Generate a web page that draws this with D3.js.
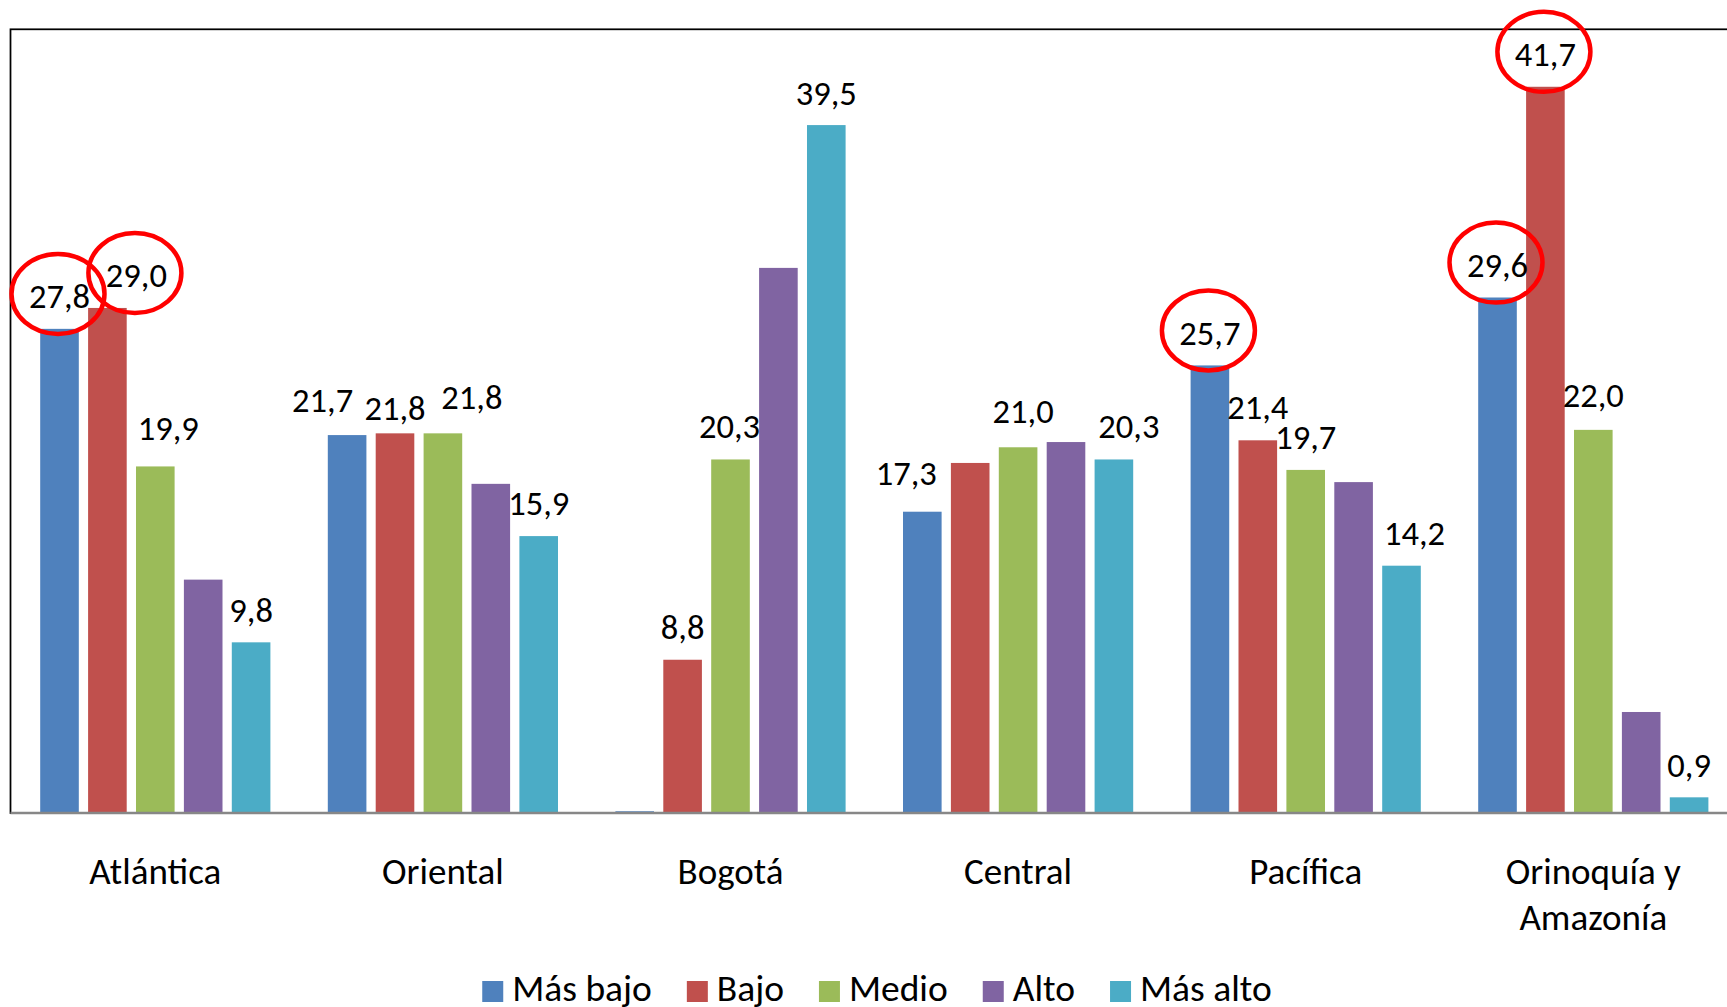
<!DOCTYPE html>
<html>
<head>
<meta charset="utf-8">
<script src="https://cdn.jsdelivr.net/npm/d3@7"></script>
<style>
  html, body { margin: 0; padding: 0; background: #fff; overflow: hidden; }
  svg { display: block; font-family: Carlito, Calibri, "Open Sans", sans-serif; }
</style>
</head>
<body>
<div id="chart"></div>
<script>
// Regions (x axis) and income quintile groups (series)
const categories = ["Atlántica", "Oriental", "Bogotá", "Central", "Pacífica", "Orinoquía y Amazonía"];
const series = ["Más bajo", "Bajo", "Medio", "Alto", "Más alto"];
const colors = ["#4F81BD", "#C0504D", "#9BBB59", "#8064A2", "#4BACC6"];

// values per series, in category order
const masBajo = [27.8, 21.7, 0.1, 17.3, 25.7, 29.6];
const bajo    = [29.0, 21.8, 8.8, 20.1, 21.4, 41.7];
const medio   = [19.9, 21.8, 20.3, 21.0, 19.7, 22.0];
const alto    = [13.4, 18.9, 31.3, 21.3, 19.0, 5.8];
const masAlto = [9.8, 15.9, 39.5, 20.3, 14.2, 0.9];

// which bars carry a value label (1 = shown)
const labelMasBajo = [1, 1, 0, 1, 1, 1];
const labelBajo    = [1, 1, 1, 0, 1, 1];
const labelMedio   = [1, 1, 1, 1, 1, 1];
const labelAlto    = [0, 0, 0, 0, 0, 0];
const labelMasAlto = [1, 1, 1, 1, 1, 1];

// labels that are circled in red: [series, category]
const circled = [
  ["Más bajo", "Atlántica"],
  ["Bajo", "Atlántica"],
  ["Más bajo", "Pacífica"],
  ["Más bajo", "Orinoquía y Amazonía"],
  ["Bajo", "Orinoquía y Amazonía"]
];

const yMax = 45;

const seriesValues = [masBajo, bajo, medio, alto, masAlto];
const seriesLabels = [labelMasBajo, labelBajo, labelMedio, labelAlto, labelMasAlto];

// manual label nudges (px), like dragged labels in the original
const nudges = {
  "Bajo|Atlántica": [29, 0],
  "Medio|Atlántica": [13, -5.5],
  "Más bajo|Oriental": [-24.5, -3],
  "Bajo|Oriental": [0, 7],
  "Medio|Oriental": [29, -4],
  "Más alto|Oriental": [0, -1],
  "Medio|Bogotá": [-1, -1],
  "Más bajo|Central": [-16, -6.5],
  "Medio|Central": [5, -4],
  "Más alto|Central": [15, -1],
  "Bajo|Pacífica": [0, -1],
  "Más alto|Pacífica": [13, 0],
  "Medio|Orinoquía y Amazonía": [0, -2]
};

const width = 1727;
const height = 1007;
const plot = { left: 11.5, top: 29.3, bottom: 813, right: 11.5 + 6 * 287.6 };

const svg = d3.select("#chart").append("svg")
  .attr("width", width)
  .attr("height", height);

const x0 = d3.scaleBand()
  .domain(categories)
  .range([plot.left, plot.right])
  .padding(0);

const groupPad = 28.7;
const x1 = d3.scaleBand()
  .domain(series)
  .range([groupPad, x0.bandwidth() - groupPad])
  .paddingInner(0.194)
  .paddingOuter(0);

const y = d3.scaleLinear()
  .domain([0, yMax])
  .range([plot.bottom, plot.top]);

const color = d3.scaleOrdinal().domain(series).range(colors);

// plot area border (runs off the right edge like the original)
svg.append("rect")
  .attr("x", plot.left - 1)
  .attr("y", plot.top)
  .attr("width", plot.right - plot.left + 10)
  .attr("height", plot.bottom - plot.top)
  .attr("fill", "none")
  .attr("stroke", "#000")
  .attr("stroke-width", 1.75);

// flatten into one record per bar
const bars = [];
series.forEach((s, si) => {
  categories.forEach((c, ci) => {
    bars.push({
      series: s,
      category: c,
      value: seriesValues[si][ci],
      labelled: seriesLabels[si][ci] === 1
    });
  });
});

const g = svg.append("g");

g.selectAll(".bar")
  .data(bars)
  .join("rect")
  .attr("class", "bar")
  .attr("x", (d) => x0(d.category) + x1(d.series))
  .attr("y", (d) => y(d.value))
  .attr("width", x1.bandwidth())
  .attr("height", (d) => y(0) - y(d.value))
  .attr("fill", (d) => color(d.series));

// category axis line
svg.append("line")
  .attr("x1", plot.left - 1)
  .attr("x2", width)
  .attr("y1", y(0))
  .attr("y2", y(0))
  .attr("stroke", "#878787")
  .attr("stroke-width", 2.5);

// category labels (wrapped after the "y")
const catLabel = svg.append("g")
  .selectAll("text")
  .data(categories)
  .join("text")
  .attr("x", (d) => x0(d) + x0.bandwidth() / 2)
  .attr("y", 884)
  .attr("text-anchor", "middle")
  .attr("font-size", 37)
  .attr("fill", "#000");

catLabel.each(function (d) {
  const lines = d.includes(" y ") ? [d.split(" y ")[0] + " y", d.split(" y ")[1]] : [d];
  const t = d3.select(this);
  lines.forEach((line, i) => {
    t.append("tspan")
      .attr("x", x0(d) + x0.bandwidth() / 2)
      .attr("dy", i === 0 ? 0 : 46)
      .text(line);
  });
});

// value labels
const fmt = (v) => d3.format(".1f")(v).replace(".", ",");
const labelled = bars.filter((d) => d.labelled);
labelled.forEach((d) => {
  const n = nudges[d.series + "|" + d.category] || [0, 0];
  d.lx = x0(d.category) + x1(d.series) + x1.bandwidth() / 2 + n[0];
  d.ly = y(d.value) - 20.5 + n[1];
});

svg.append("g")
  .selectAll("text")
  .data(labelled)
  .join("text")
  .attr("x", (d) => d.lx)
  .attr("y", (d) => d.ly)
  .attr("text-anchor", "middle")
  .attr("font-size", 34.5)
  .attr("fill", "#000")
  .text((d) => fmt(d.value));

// red annotation circles
const circledBars = labelled.filter((d) =>
  circled.some((c) => c[0] === d.series && c[1] === d.category));

svg.append("g")
  .selectAll("ellipse")
  .data(circledBars)
  .join("ellipse")
  .attr("cx", (d) => d.lx - 1.5)
  .attr("cy", (d) => d.ly - 14.4)
  .attr("rx", 46.5)
  .attr("ry", 40)
  .attr("fill", "none")
  .attr("stroke", "#ff0000")
  .attr("stroke-width", 4.5);

// legend, centred under the plot
const legend = svg.append("g");
const items = legend.selectAll("g")
  .data(series)
  .join("g");

items.append("rect")
  .attr("width", 21)
  .attr("height", 21)
  .attr("y", 981)
  .attr("fill", (d) => color(d));

items.append("text")
  .attr("y", 1001)
  .attr("font-size", 37.5)
  .attr("fill", "#000")
  .text((d) => d);

let cursor = 0;
const offsets = [];
items.each(function () {
  const w = d3.select(this).select("text").node().getComputedTextLength();
  offsets.push(cursor);
  cursor += 21 + 9 + w + 35;
});
const legendWidth = cursor - 35;
const legendStart = 877 - legendWidth / 2;
items.each(function (d, i) {
  const it = d3.select(this);
  it.select("rect").attr("x", legendStart + offsets[i]);
  it.select("text").attr("x", legendStart + offsets[i] + 30);
});
</script>
</body>
</html>
